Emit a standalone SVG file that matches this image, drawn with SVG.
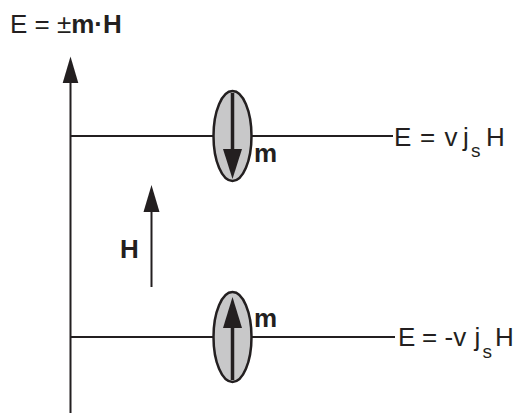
<svg xmlns="http://www.w3.org/2000/svg" width="518" height="416" viewBox="0 0 518 416">
<style>
.ln{stroke:#231f20;stroke-width:2;fill:none}
.ell{fill:#c8c8c9;stroke:#231f20;stroke-width:2.5}
.ah{fill:#231f20;stroke:none}
.t{font-family:"Liberation Sans",Arial,sans-serif;font-size:26px;fill:#231f20}
.b{font-weight:bold}
.sub{font-size:19px}
</style>
<rect width="518" height="416" fill="#fff"/>
<g id="connectors">
<line class="ln" x1="70.5" y1="80" x2="70.5" y2="413"/>
<polygon class="ah" points="70.5,56.5 78.3,83 62.7,83"/>
<line class="ln" x1="70" y1="136" x2="393" y2="136"/>
<line class="ln" x1="70" y1="337" x2="395" y2="337"/>
<line class="ln" x1="151.5" y1="208" x2="151.5" y2="287"/>
<polygon class="ah" points="151.5,185 159.5,212 143.5,212"/>
</g>
<g id="axis-label">
<text class="t" x="10" y="33">E = ±<tspan class="b">m·H</tspan></text>
</g>
<g id="spin-up-state">
<ellipse class="ell" cx="232.5" cy="136" rx="19" ry="45"/>
<line x1="232.5" y1="93" x2="232.5" y2="152" stroke="#231f20" stroke-width="3.5"/>
<polygon class="ah" points="232.5,179 242,149 223,149"/>
<text class="t b" x="254" y="162">m</text>
</g>
<g id="spin-down-state">
<ellipse class="ell" cx="232.5" cy="337" rx="19" ry="45"/>
<line x1="232.5" y1="326" x2="232.5" y2="380" stroke="#231f20" stroke-width="3.5"/>
<polygon class="ah" points="232.5,297 242,328 223,328"/>
<text class="t b" x="254" y="327">m</text>
</g>
<g id="field-label">
<text class="t b" x="120" y="258">H</text>
</g>
<g id="upper-energy">
<text class="t" y="146"><tspan x="394">E</tspan><tspan x="420">=</tspan><tspan x="444.5">v</tspan><tspan x="463">j</tspan><tspan class="sub" x="471" y="157">s</tspan><tspan x="486" y="146">H</tspan></text>
</g>
<g id="lower-energy">
<text class="t" y="346"><tspan x="398">E</tspan><tspan x="422">=</tspan><tspan x="444.5">-v</tspan><tspan x="474.5">j</tspan><tspan class="sub" x="482.5" y="358">s</tspan><tspan x="495" y="346">H</tspan></text>
</g>
</svg>
